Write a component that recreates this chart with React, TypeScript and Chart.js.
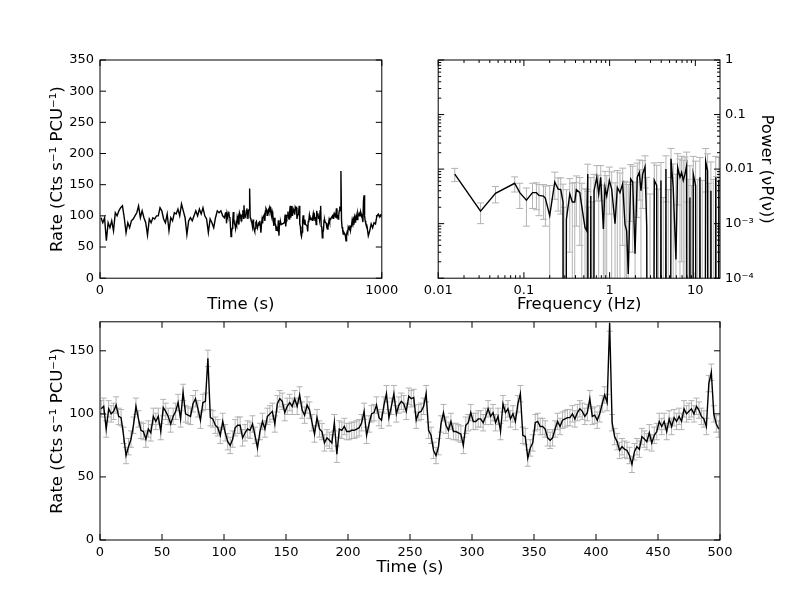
import React, { useEffect, useRef } from 'react';
import { Chart, registerables } from 'chart.js';

Chart.register(...registerables);

const FONT = "'DejaVu Sans', sans-serif";
const TICK_FONT = { family: FONT, size: 13 };
const TITLE_FONT = { family: FONT, size: 16.5 };
const ERR_GREY = '#b3b3b3';

// ---------- Bottom panel: 500 s light curve segment (2 s bins) ----------
const LC_START = 1;
const LC_BIN = 2;
const LC_ERR = 6.5;
const LC_Y_MAX = 173;
const lcRate = [
  104, 106, 88, 104, 100, 102, 107, 98, 97, 83,
  67, 74, 80, 91, 106, 96, 87, 86, 80, 88,
  85, 98, 94, 98, 86, 105, 102, 98, 92, 98,
  102, 109, 96, 117, 100, 99, 98, 108, 112, 104,
  95, 109, 110, 144, 97, 96, 91, 89, 83, 94,
  85, 78, 75, 80, 89, 91, 91, 81, 85, 88,
  87, 92, 83, 73, 86, 94, 88, 98, 100, 102,
  92, 108, 112, 110, 101, 106, 109, 106, 112, 106,
  115, 103, 99, 107, 103, 93, 84, 97, 88, 86,
  77, 81, 79, 77, 93, 68, 88, 87, 90, 86,
  86, 87, 87, 88, 89, 93, 102, 83, 92, 100,
  101, 107, 97, 95, 107, 116, 97, 106, 116, 100,
  107, 110, 108, 102, 114, 112, 113, 95, 101, 102,
  106, 116, 87, 83, 71, 67, 74, 92, 101, 91,
  87, 94, 86, 86, 85, 84, 75, 91, 93, 101,
  94, 94, 96, 96, 93, 98, 104, 98, 101, 93,
  98, 86, 108, 101, 104, 96, 100, 94, 108, 116,
  83, 82, 65, 73, 77, 93, 94, 90, 90, 88,
  81, 79, 81, 88, 94, 90, 95, 96, 97, 97,
  100, 96, 101, 104, 102, 98, 101, 112, 98, 99,
  95, 100, 108, 115, 109, 172, 93, 82, 78, 71,
  74, 72, 71, 67, 60, 70, 74, 72, 82, 80,
  78, 85, 77, 83, 86, 94, 90, 94, 86, 96,
  90, 97, 94, 98, 94, 104, 100, 102, 104, 100,
  106, 103, 98, 96, 90, 124, 133, 100, 92, 88,
];

// ---------- Top-left panel: full 1000 s observation ----------
const SEGMENT_OFFSET = 444; // where the bottom segment starts
const EARLY_START = 3.5;
const EARLY_BIN = 6.35;
const earlyRate = [
  97, 89, 97, 60, 89, 81, 92, 76, 105, 100,
  108, 113, 116, 97, 73, 89, 81, 92, 95, 100,
  105, 116, 97, 108, 97, 89, 69, 95, 89, 97,
  95, 100, 100, 113, 108, 95, 89, 103, 76, 97,
  92, 105, 103, 111, 100, 119, 108, 97, 70, 92,
  97, 92, 100, 108, 100, 111, 103, 113, 100, 95,
  73, 95, 89, 81, 97, 108, 105, 108, 100, 97,
];
const TAIL_START = 947;
const TAIL_BIN = 5.1;
const tailRate = [85, 68, 76, 87, 81, 89, 87, 100, 103, 98, 103];

// ---------- Top-right panel: power spectrum ----------
const psdFreq = [
  0.0156, 0.0312, 0.0466, 0.078, 0.0895, 0.107, 0.126, 0.140, 0.150, 0.169,
  0.178, 0.200, 0.229, 0.251, 0.269, 0.286, 0.294, 0.313, 0.343, 0.367,
  0.392, 0.409, 0.449, 0.473, 0.516, 0.541, 0.556, 0.570, 0.603, 0.624,
  0.658, 0.708, 0.746, 0.787, 0.845, 0.883, 0.925, 0.993, 1.057, 1.156,
  1.23, 1.32, 1.42, 1.51, 1.58, 1.65, 1.76, 1.86, 1.98, 2.10,
  2.22, 2.32, 2.43, 2.59, 2.71, 2.96, 3.32, 3.54, 3.70, 3.97,
  4.23, 4.54, 4.83, 5.20, 5.52, 5.94, 6.22, 6.62, 6.92, 7.23,
  7.57, 7.92, 8.26, 8.65, 9.06, 9.46, 10.07, 10.64, 11.32, 12.03,
  13.2, 13.9, 14.4, 15.2, 16.2, 17.3, 17.7, 18.8,
];
const psdPower = [
  0.0081, 0.0017, 0.0036, 0.0055, 0.0037, 0.0027, 0.0037, 0.0037, 0.0033, 0.0032,
  0.0029, 0.0014, 0.0058, 0.0043, 0.0042, 0.0025, -0.0010, 0.0012, 0.0035, 0.0025,
  0.0025, 0.0042, 0.0037, 0.0021, 0.00085, 0.00074, 0.0081, -0.0020, 0.0032, -0.0015,
  0.0040, 0.0071, 0.0035, 0.0071, 0.0008, 0.0046, 0.0032, 0.0062, 0.0043, 0.0010,
  0.0046, 0.0037, 0.0054, 0.00098, 0.00074, 0.00012, 0.0066, 0.0058, 0.00028, 0.0071,
  0.0087, 0.0040, 0.0081, 0.0110, 0.00085, -0.0030, 0.0062, 0.0050, -0.0025, 0.0062,
  -0.0040, 0.0100, -0.0030, 0.0155, 0.0046, 0.00022, 0.0107, 0.0071, 0.0087, 0.0062,
  0.0081, 0.0115, -0.0020, 0.0030, -0.0035, 0.0081, 0.0050, -0.0025, 0.0071, -0.0030,
  0.0138, 0.0093, -0.0040, 0.0040, -0.0030, 0.0071, -0.0025, 0.0063,
];
const psdErr = [
  0.0022, 0.0007, 0.0012, 0.0017, 0.0018, 0.0018, 0.0018, 0.0019, 0.0019, 0.0020,
  0.0020, 0.0036, 0.0030, 0.0026, 0.0027, 0.0028, 0.0030, 0.0030, 0.0032, 0.0030,
  0.0032, 0.0033, 0.0033, 0.0034, 0.0035, 0.0035, 0.0042, 0.0040, 0.0038, 0.0040,
  0.0040, 0.0045, 0.0042, 0.0045, 0.0043, 0.0045, 0.0044, 0.0047, 0.0046, 0.0046,
  0.0048, 0.0048, 0.0050, 0.0050, 0.0050, 0.0051, 0.0055, 0.0055, 0.0055, 0.0058,
  0.0060, 0.0058, 0.0062, 0.0065, 0.0062, 0.0065, 0.0068, 0.0068, 0.0068, 0.0070,
  0.0070, 0.0075, 0.0072, 0.0085, 0.0078, 0.0078, 0.0085, 0.0082, 0.0085, 0.0083,
  0.0085, 0.0090, 0.0085, 0.0085, 0.0085, 0.0090, 0.0090, 0.0090, 0.0092, 0.0092,
  0.0100, 0.0098, 0.0095, 0.0095, 0.0095, 0.0100, 0.0098, 0.0100,
];
const PSD_X_MIN = 0.01;
const PSD_X_MAX = 19.4;
const PSD_Y_MIN = 1e-4;
const PSD_Y_MAX = 1;
const LOG_LABELS: Record<number, string> = {
  [-4]: '10⁻⁴', [-3]: '10⁻³', [-2]: '0.01', [-1]: '0.1', 0: '1', 1: '10',
};
const CLIPPED = 1e-30; // non-positive powers are drawn off the bottom, as matplotlib clips them

const isPow10 = (v: number) => {
  const l = Math.log10(v);
  return Math.abs(l - Math.round(l)) < 1e-6;
};
const isIntMantissa = (v: number) => {
  const m = v / Math.pow(10, Math.floor(Math.log10(v) + 1e-9));
  return Math.abs(m - Math.round(m)) < 1e-6;
};

// matplotlib-style frame with inward ticks on all four sides
const framePlugin = {
  id: 'mplFrame',
  afterDraw(chart: any) {
    const { ctx, chartArea: a, scales } = chart;
    const tickSet = (s: any) => {
      const out: { v: number; major: boolean }[] = [];
      for (const t of s.ticks) {
        const v = t.value;
        if (v < s.min - 1e-12 || v > s.max + 1e-12) continue;
        if (s.type === 'logarithmic') {
          if (!isIntMantissa(v)) continue;
          out.push({ v, major: isPow10(v) });
        } else out.push({ v, major: true });
      }
      return out;
    };
    ctx.save();
    ctx.strokeStyle = '#000';
    ctx.lineWidth = 1;
    ctx.beginPath();
    for (const t of tickSet(scales.x)) {
      const p = scales.x.getPixelForValue(t.v);
      const len = t.major ? 6 : 3;
      ctx.moveTo(p, a.bottom);
      ctx.lineTo(p, a.bottom - len);
      ctx.moveTo(p, a.top);
      ctx.lineTo(p, a.top + len);
    }
    for (const t of tickSet(scales.y)) {
      const p = scales.y.getPixelForValue(t.v);
      const len = t.major ? 6 : 3;
      ctx.moveTo(a.left, p);
      ctx.lineTo(a.left + len, p);
      ctx.moveTo(a.right, p);
      ctx.lineTo(a.right - len, p);
    }
    ctx.stroke();
    ctx.strokeRect(a.left, a.top, a.right - a.left, a.bottom - a.top);
    ctx.restore();
  },
};

function errorBars(xs: number[], ys: number[], errs: number[], capHalf: number) {
  return {
    id: 'errBars',
    beforeDatasetsDraw(chart: any) {
      const { ctx, chartArea: a, scales } = chart;
      const sx = scales.x;
      const sy = scales.y;
      const isLog = sy.type === 'logarithmic';
      const yPix = (v: number) => (isLog && v <= 0 ? a.bottom + 1000 : sy.getPixelForValue(v));
      ctx.save();
      ctx.beginPath();
      ctx.rect(a.left, a.top, a.right - a.left, a.bottom - a.top);
      ctx.clip();
      ctx.strokeStyle = ERR_GREY;
      ctx.lineWidth = 1;
      ctx.beginPath();
      for (let i = 0; i < xs.length; i++) {
        const px = sx.getPixelForValue(xs[i]);
        const top = yPix(ys[i] + errs[i]);
        const bot = yPix(ys[i] - errs[i]);
        ctx.moveTo(px, top);
        ctx.lineTo(px, bot);
        ctx.moveTo(px - capHalf, top);
        ctx.lineTo(px + capHalf, top);
        ctx.moveTo(px - capHalf, bot);
        ctx.lineTo(px + capHalf, bot);
      }
      ctx.stroke();
      ctx.restore();
    },
  };
}

const hiddenGrid = { display: false, drawTicks: false };
const hiddenBorder = { display: false };

function lineDataset(points: { x: number; y: number }[]) {
  return {
    data: points,
    borderColor: '#000',
    borderWidth: 1.4,
    pointRadius: 0,
    tension: 0,
    fill: false,
  };
}

const baseOptions = (padding: any) => ({
  responsive: false,
  animation: false as const,
  devicePixelRatio: 1,
  events: [] as any[],
  layout: { padding },
  plugins: { legend: { display: false }, tooltip: { enabled: false } },
});

function buildTopLeft() {
  const pts = [
    ...earlyRate.map((r, i) => ({ x: EARLY_START + i * EARLY_BIN, y: r })),
    ...lcRate.map((r, i) => ({ x: SEGMENT_OFFSET + LC_START + i * LC_BIN, y: r })),
    ...tailRate.map((r, i) => ({ x: TAIL_START + i * TAIL_BIN, y: r })),
  ];
  return {
    type: 'line',
    data: { datasets: [lineDataset(pts)] },
    options: {
      ...baseOptions({ left: 47.4, top: 60, right: 418.2, bottom: 285.4 }),
      scales: {
        x: {
          type: 'linear', min: 0, max: 1000,
          grid: hiddenGrid, border: hiddenBorder,
          ticks: { stepSize: 1000, padding: 5, color: '#000', font: TICK_FONT, maxRotation: 0, callback: (v: any) => String(v) },
          title: { display: true, text: 'Time (s)', color: '#000', font: TITLE_FONT, padding: 0 },
          afterFit: (s: any) => { s.height = 36.4; },
        },
        y: {
          type: 'linear', min: 0, max: 350,
          grid: hiddenGrid, border: hiddenBorder,
          ticks: { stepSize: 50, padding: 6, color: '#000', font: TICK_FONT, callback: (v: any) => String(v) },
          title: { display: true, text: 'Rate (Cts s⁻¹ PCU⁻¹)', color: '#000', font: TITLE_FONT, padding: 0 },
          afterFit: (s: any) => { s.width = 52.6; },
        },
      },
    },
    plugins: [framePlugin],
  };
}

function buildTopRight() {
  const pts = psdFreq.map((f, i) => ({ x: f, y: psdPower[i] > 0 ? psdPower[i] : CLIPPED }));
  const logLabel = (v: any) => {
    const n = Number(v);
    if (!isPow10(n)) return '';
    const e = Math.round(Math.log10(n));
    return LOG_LABELS[e] ?? '';
  };
  return {
    type: 'line',
    data: { datasets: [lineDataset(pts)] },
    options: {
      ...baseOptions({ left: 438.2, top: 60, right: 23.4, bottom: 285.4 }),
      scales: {
        x: {
          type: 'logarithmic', min: PSD_X_MIN, max: PSD_X_MAX,
          grid: hiddenGrid, border: hiddenBorder,
          ticks: { autoSkip: false, padding: 5, color: '#000', font: TICK_FONT, maxRotation: 0, minRotation: 0, callback: logLabel },
          title: { display: true, text: 'Frequency (Hz)', color: '#000', font: TITLE_FONT, padding: 0 },
          afterFit: (s: any) => { s.height = 36.4; },
        },
        y: {
          type: 'logarithmic', position: 'right', min: PSD_Y_MIN, max: PSD_Y_MAX,
          grid: hiddenGrid, border: hiddenBorder,
          ticks: { autoSkip: false, padding: 5, color: '#000', font: TICK_FONT, callback: logLabel },
          title: { display: true, text: 'Power (νP(ν))', color: '#000', font: TITLE_FONT, padding: 0 },
          afterFit: (s: any) => { s.width = 56.6; },
        },
      },
    },
    plugins: [errorBars(psdFreq, psdPower, psdErr, 3.5), framePlugin],
  };
}

function buildBottom() {
  const times = lcRate.map((_, i) => LC_START + i * LC_BIN);
  const errs = lcRate.map(() => LC_ERR);
  const pts = lcRate.map((r, i) => ({ x: times[i], y: r }));
  return {
    type: 'line',
    data: { datasets: [lineDataset(pts)] },
    options: {
      ...baseOptions({ left: 47.4, top: 321.8, right: 80, bottom: 22.4 }),
      scales: {
        x: {
          type: 'linear', min: 0, max: 500,
          grid: hiddenGrid, border: hiddenBorder,
          ticks: { stepSize: 50, padding: 5, color: '#000', font: TICK_FONT, maxRotation: 0, callback: (v: any) => String(v) },
          title: { display: true, text: 'Time (s)', color: '#000', font: TITLE_FONT, padding: 0 },
          afterFit: (s: any) => { s.height = 37.6; },
        },
        y: {
          type: 'linear', min: 0, max: LC_Y_MAX,
          grid: hiddenGrid, border: hiddenBorder,
          ticks: { stepSize: 50, includeBounds: false, padding: 6, color: '#000', font: TICK_FONT, callback: (v: any) => String(v) },
          title: { display: true, text: 'Rate (Cts s⁻¹ PCU⁻¹)', color: '#000', font: TITLE_FONT, padding: 0 },
          afterFit: (s: any) => { s.width = 52.6; },
        },
      },
    },
    plugins: [errorBars(times, lcRate, errs, 3), framePlugin],
  };
}

function Panel({ build }: { build: () => any }) {
  const ref = useRef<HTMLCanvasElement>(null);
  useEffect(() => {
    const chart = new Chart(ref.current as HTMLCanvasElement, build());
    return () => chart.destroy();
  }, [build]);
  return (
    <canvas
      ref={ref}
      width={800}
      height={600}
      style={{ position: 'absolute', left: 0, top: 0, width: 800, height: 600 }}
    />
  );
}

export default function App() {
  return (
    <div style={{ position: 'fixed', left: 0, top: 0, width: 800, height: 600, background: '#fff' }}>
      <Panel build={buildTopLeft} />
      <Panel build={buildTopRight} />
      <Panel build={buildBottom} />
    </div>
  );
}
